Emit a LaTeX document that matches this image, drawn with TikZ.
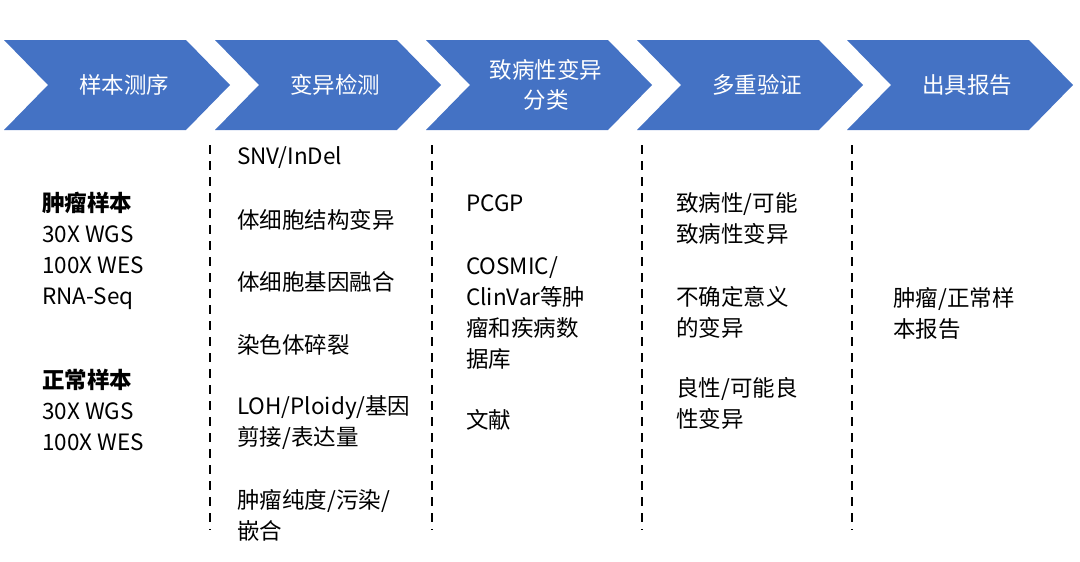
\documentclass[tikz,border=0pt]{standalone}
\usepackage{fontspec}
\setmainfont{Carlito}
\newfontfamily\cjk{Noto Sans CJK SC}
\usetikzlibrary{positioning}
\definecolor{chevblue}{HTML}{4472C4}

\begin{document}
\begin{tikzpicture}[x=1pt, y=-1pt,
                chevron/.style={fill=chevblue, draw=none},
                steplabel/.style={text=white, font=\cjk\fontsize{22.5}{30}\selectfont, align=center},
                item/.style={anchor=west, inner sep=0pt, font=\cjk\fontsize{22.5}{31}\selectfont, align=left},
                divider/.style={dashed, line width=2.6pt, dash pattern=on 9pt off 7pt}
            ]
            \useasboundingbox (0,0) rectangle (1080,562);

            % chevrons along the top
            \foreach \x/\name in {4/a, 215/b, 426/c, 637/d, 847/e} {
                \fill[chevron] (\x,40) -- (\x+182,40) -- (\x+226,85) -- (\x+182,130)
                    -- (\x,130) -- (\x+44,85) -- cycle;
                \coordinate (chev\name) at (\x+120,85);
            }
            \node[steplabel] (seq) at (cheva) {样本测序};
            \node[steplabel] (det) at (chevb) {变异检测};
            \node[steplabel] (cls) at (chevc) {致病性变异\\分类};
            \node[steplabel] (ver) at (chevd) {多重验证};
            \node[steplabel] (rep) at (cheve) {出具报告};

            % dashed dividers
            \foreach \x in {210, 432, 642, 852}
                \draw[divider] (\x,145) -- (\x,530);

            % sample column
            \node[item] (tumour) at (42,251) {\textbf{肿瘤样本}\\30X WGS\\100X WES\\RNA-Seq};
            \node[item] (normal) at (42,410) {\textbf{正常样本}\\30X WGS\\100X WES};

            % detection column
            \node[item] (snv) at (237,158) {SNV/InDel};
            \node[item] (sv) at (237,220) {体细胞结构变异};
            \node[item] (fus) at (237,282) {体细胞基因融合};
            \node[item] (chr) at (237,345) {染色体碎裂};
            \node[item] (loh) at (237,423) {LOH/Ploidy/基因\\剪接/表达量};
            \node[item] (pur) at (237,515) {肿瘤纯度/污染/\\嵌合};

            % classification column
            \node[item] (pcgp) at (466,203) {PCGP};
            \node[item] (db) at (466,313) {COSMIC/\\ClinVar等肿\\瘤和疾病数\\据库};
            \node[item] (lit) at (466,420) {文献};

            % verification column
            \node[item] (path) at (676,218) {致病性/可能\\致病性变异};
            \node[item] (vus) at (676,312) {不确定意义\\的变异};
            \node[item] (ben) at (676,403) {良性/可能良\\性变异};

            % report column
            \node[item] (out) at (893,313) {肿瘤/正常样\\本报告};

        \end{tikzpicture}
\end{document}
